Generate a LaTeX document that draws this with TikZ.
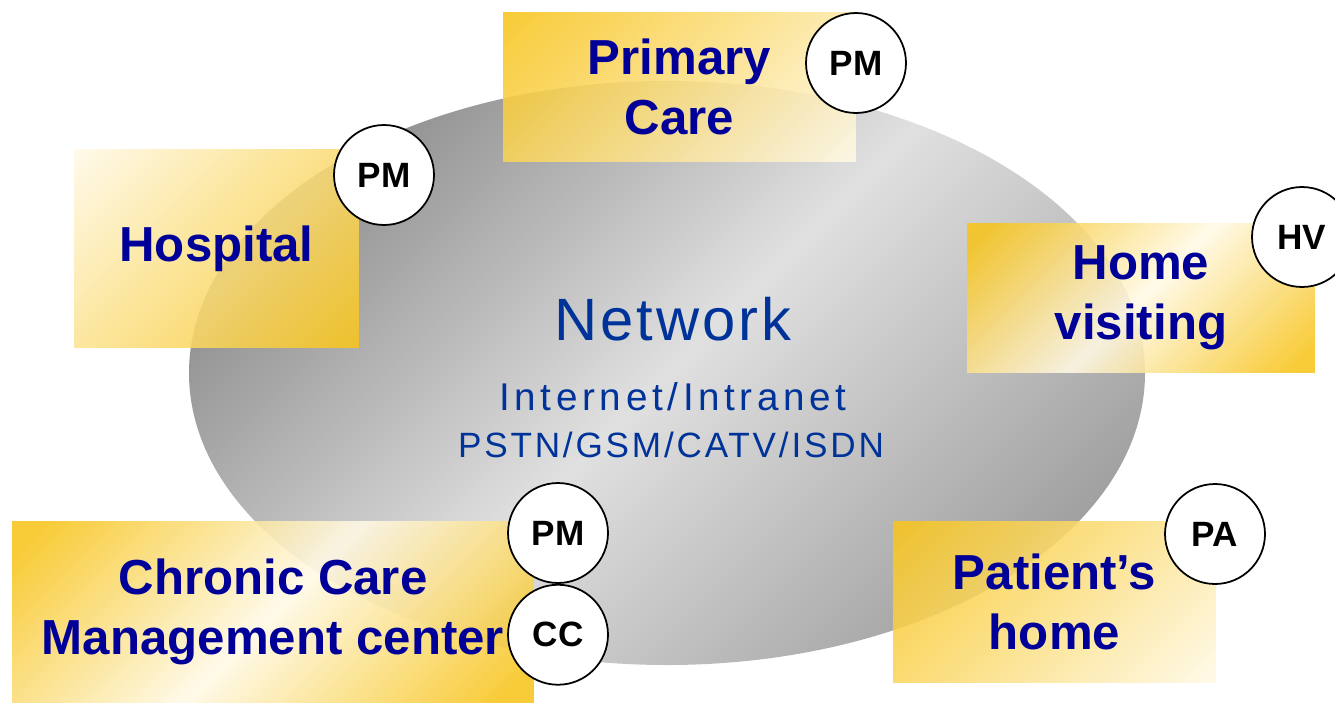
\documentclass[tikz,border=0pt]{standalone}
\usepackage{fontspec}
\setmainfont{Liberation Sans}
\usepackage{tikz}
\usetikzlibrary{positioning}
\definecolor{navy}{RGB}{0,0,153}
\definecolor{netblue}{RGB}{0,51,153}
\definecolor{gold}{RGB}{247,196,28}
\definecolor{cream}{RGB}{255,249,230}
\definecolor{netdark}{RGB}{140,140,140}
\definecolor{netmid}{RGB}{160,160,160}
\definecolor{netlight}{RGB}{224,224,224}
\pgfdeclareverticalshading{goldfade}{100bp}{color(0bp)=(cream); color(15bp)=(cream); color(85bp)=(gold); color(100bp)=(gold)}
\pgfdeclareverticalshading{fadegold}{100bp}{color(0bp)=(gold); color(15bp)=(gold); color(85bp)=(cream); color(100bp)=(cream)}
\pgfdeclareverticalshading{goldband}{100bp}{color(0bp)=(gold); color(18bp)=(gold); color(50bp)=(cream); color(82bp)=(gold); color(100bp)=(gold)}
\pgfdeclareverticalshading{netshade}{100bp}{color(0bp)=(netmid); color(24bp)=(netmid); color(50bp)=(netlight); color(76bp)=(netdark); color(100bp)=(netdark)}

\begin{document}
\begin{tikzpicture}[x=0.02cm, y=-0.02cm,
    box/.style={shade, shading angle=45, fill opacity=0.88, text opacity=1, inner sep=0, outer sep=0,
      align=center, text=navy, font=\fontsize{28}{34}\selectfont\bfseries},
    tag/.style={circle, draw, line width=1pt, fill=white, minimum size=2cm, inner sep=0,
      font=\fontsize{20}{24}\selectfont\bfseries},
    net/.style={anchor=base, text=netblue}
  ]
  \useasboundingbox (0,0) rectangle (1335,703);
  \shade[shading=netshade, shading angle=45] (667,373) ellipse [x radius=478, y radius=292];

  \node[box, shading=fadegold, minimum width=5.7cm, minimum height=3.98cm] (hosp) at (216.5,248.5) {Hospital};
  \node[box, shading=goldfade, minimum width=7.06cm, minimum height=3cm] (prim) at (679.5,87) {Primary\\Care};
  \node[box, shading=goldband, minimum width=6.96cm, minimum height=3cm] (home) at (1141,298) {Home\\visiting};
  \node[box, shading=goldfade, minimum width=6.46cm, minimum height=3.24cm] (pat) at (1054.5,602) {Patient’s\\home};
  \node[box, shading=goldband, minimum width=10.44cm, minimum height=3.64cm] (ccm) at (273,612) {Chronic Care\\Management center};

  \node[tag] (pmP) at (856,63) {PM};
  \node[tag] (pmH) at (384,175) {PM};
  \node[tag] (hv) at (1302,237) {HV};
  \node[tag] (pa) at (1215,534) {PA};
  \node[tag] (pmC) at (558,533) {PM};
  \node[tag, below=0pt of pmC] (cc) {CC};

  \node[net, font=\fontsize{34}{40}\selectfont\addfontfeature{LetterSpace=5}] (netw) at (673,340) {Network};
  \node[net, font=\fontsize{22}{26}\selectfont\addfontfeature{LetterSpace=12}] (inet) at (673,410) {Internet/Intranet};
  \node[net, font=\fontsize{20}{24}\selectfont\addfontfeature{LetterSpace=8}] (pstn) at (671,457) {PSTN/GSM/CATV/ISDN};
\end{tikzpicture}
\end{document}
